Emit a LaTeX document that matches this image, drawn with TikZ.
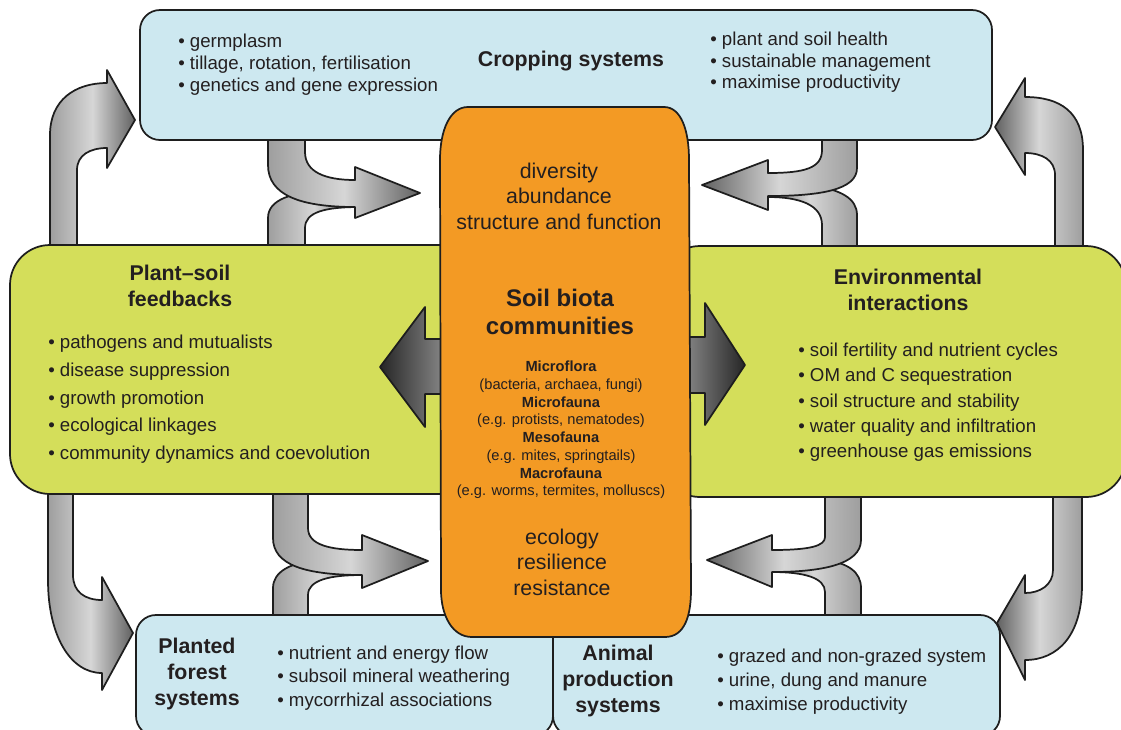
\documentclass[tikz,border=0pt]{standalone}
\usepackage{fontspec}
\setmainfont{Liberation Sans}
\definecolor{boxblue}{HTML}{CDE8F0}
\definecolor{boxgreen}{HTML}{D4DE5A}
\definecolor{biota}{HTML}{F39A24}
\definecolor{ink}{HTML}{231F20}
\definecolor{edge}{HTML}{1E1E1E}
\tikzset{
  outl/.style={draw=edge, line width=1.3pt, line join=round},
  bluebox/.style={outl, fill=boxblue, rounded corners=15pt},
  greenbox/.style={outl, fill=boxgreen, rounded corners=30pt},
  grayR/.style={outl, left color=black!38, right color=black!62, middle color=black!16},
  grayL/.style={outl, left color=black!62, right color=black!38, middle color=black!16},
  darkL/.style={outl, left color=black!85, right color=black!38},
  darkR/.style={outl, left color=black!38, right color=black!85},
  item/.style={anchor=west, inner sep=0pt, text=ink, font=\fontsize{14}{16.8}\selectfont},
  head/.style={align=center, inner sep=0pt, text=ink, font=\fontsize{16}{19.2}\selectfont\bfseries},
  midtext/.style={align=center, inner sep=0pt, text=ink, font=\fontsize{16}{19.1}\selectfont},
}
\begin{document}
\begin{tikzpicture}[x=0.75pt,y=-0.75pt]
\useasboundingbox (0,0) rectangle (1121,729);
\clip (0,0) rectangle (1121,729);
\fill[white] (0,0) rectangle (1121,729);

% outer curved arrows between the boxes
\path[grayR] (50,260) -- (50,135) .. controls (50,100) and (75,83) .. (107,83) -- (107,70) -- (135,120) -- (107,168) -- (107,148) .. controls (90,148) and (77,155) .. (77,170) -- (77,260) -- cycle;
\path[grayL] (1083,260) -- (1083,150) .. controls (1083,112) and (1060,97) .. (1025,97) -- (1025,78) -- (995,127) -- (1025,175) -- (1025,153) .. controls (1042,153) and (1055,160) .. (1055,175) -- (1055,260) -- cycle;
\path[grayR] (48,480) -- (48,580) .. controls (48,635) and (70,673) .. (102,673) -- (102,690) -- (133,633) -- (102,577) -- (102,600) .. controls (85,600) and (73,592) .. (73,575) -- (73,480) -- cycle;
\path[grayL] (1082,480) -- (1082,585) .. controls (1082,635) and (1058,660) .. (1025,660) -- (1025,680) -- (997,623) -- (1025,575) -- (1025,593) .. controls (1040,593) and (1053,585) .. (1053,570) -- (1053,480) -- cycle;

% merging arrows towards the soil biota, upper left
\path[grayR] (268,260) -- (268,218) .. controls (268,200) and (290,192) .. (330,190) -- (360,190) -- (360,207) .. controls (325,207) and (305,212) .. (305,228) -- (305,260) -- cycle;
\path[grayR] (268,125) -- (268,165) .. controls (268,195) and (300,207) .. (355,207) -- (355,218) -- (420,193) -- (355,167) -- (355,180) .. controls (325,180) and (305,172) .. (305,152) -- (305,125) -- cycle;
% upper right
\path[grayL] (857,260) -- (857,215) .. controls (857,198) and (840,190) .. (815,186) -- (762,186) -- (762,197) -- (768,197) .. controls (800,197) and (822,205) .. (822,225) -- (822,260) -- cycle;
\path[grayL] (822,125) -- (822,150) .. controls (822,168) and (805,173) .. (768,173) -- (768,160) -- (702,185) -- (768,210) -- (768,196) .. controls (820,196) and (857,190) .. (857,168) -- (857,125) -- cycle;
% lower left
\path[grayR] (273,630) -- (273,588) .. controls (273,572) and (290,562) .. (320,560) -- (368,560) -- (368,575) -- (362,575) .. controls (330,575) and (308,580) .. (308,595) -- (308,630) -- cycle;
\path[grayR] (273,480) -- (273,538) .. controls (273,565) and (305,575) .. (362,575) -- (362,588) -- (428,561) -- (362,535) -- (362,550) .. controls (330,550) and (308,545) .. (308,528) -- (308,480) -- cycle;
% lower right
\path[grayL] (861,630) -- (861,588) .. controls (861,572) and (848,563) .. (825,560) -- (765,560) -- (765,572) -- (772,572) .. controls (805,572) and (825,578) .. (825,592) -- (825,630) -- cycle;
\path[grayL] (825,480) -- (825,537) .. controls (825,546) and (810,550) .. (772,550) -- (772,535) -- (707,560) -- (772,587) -- (772,572) .. controls (820,572) and (861,565) .. (861,540) -- (861,480) -- cycle;

% boxes
\path[bluebox] (140,10) rectangle (992,140);
\path[greenbox] (10,245) rectangle (480,494);
\path[greenbox] (660,246) rectangle (1126,497);
\path[bluebox] (136,615) rectangle (553,736);
\path[bluebox] (553,615) rectangle (1000,736);

% arrows out of the soil biota
\path[darkL] (460,339) -- (425,339) -- (425,307) -- (380,367) -- (425,427) -- (425,394) -- (460,394) -- cycle;
\path[darkR] (670,337) -- (705,337) -- (705,303) -- (745,365) -- (705,425) -- (705,393) -- (670,393) -- cycle;

% soil biota communities
\path[outl, fill=biota] (468,107) -- (664,107) .. controls (681,107) and (689,130) .. (689,160) -- (691,590) .. controls (691,615) and (685,637) .. (665,637) -- (472,637) .. controls (452,637) and (441,615) .. (441,590) -- (440,160) .. controls (440,130) and (450,107) .. (468,107) -- cycle;

% headings
\node[head] (crop) at (571,61) {Cropping systems};
\node[head] (psf) at (180,286) {Plant–soil\\feedbacks};
\node[head] (env) at (908,290) {Environmental\\interactions};
\node[head] (forest) at (197,674) {Planted\\forest\\systems};
\node[head] (animal) at (618,681) {Animal\\production\\systems};

% centre texts
\node[midtext] (traits) at (559,196) {diversity\\abundance\\structure and function};
\node[align=center, inner sep=0pt, text=ink, font=\fontsize{18}{21}\selectfont\bfseries] (biotatitle) at (560,312) {Soil biota\\communities};
\node[align=center, inner sep=0pt, text=ink, font=\fontsize{11}{13.3}\selectfont] (groups) at (561,430)
  {\textbf{Microflora}\\(bacteria, archaea, fungi)\\\textbf{Microfauna}\\(e.g. protists, nematodes)\\\textbf{Mesofauna}\\(e.g. mites, springtails)\\\textbf{Macrofauna}\\(e.g. worms, termites, molluscs)};
\node[midtext] (eco) at (562,562) {ecology\\resilience\\resistance};

% bullet lists
\foreach \t [count=\i] in {germplasm, {tillage, rotation, fertilisation}, genetics and gene expression}
  \node[item] (cropA\i) at (178,{43.5+21.8*(\i-1)}) {\strut• \t};
\foreach \t [count=\i] in {plant and soil health, sustainable management, maximise productivity}
  \node[item] (cropB\i) at (710,{41.5+21.5*(\i-1)}) {\strut• \t};
\foreach \t [count=\i] in {pathogens and mutualists, disease suppression, growth promotion, ecological linkages, community dynamics and coevolution}
  \node[item] (psf\i) at (48,{344+27.8*(\i-1)}) {\strut• \t};
\foreach \t [count=\i] in {soil fertility and nutrient cycles, OM and C sequestration, soil structure and stability, water quality and infiltration, greenhouse gas emissions}
  \node[item] (env\i) at (798,{352+25.3*(\i-1)}) {\strut• \t};
\foreach \t [count=\i] in {nutrient and energy flow, subsoil mineral weathering, mycorrhizal associations}
  \node[item] (forest\i) at (277,{655+23.5*(\i-1)}) {\strut• \t};
\foreach \t [count=\i] in {grazed and non-grazed system, {urine, dung and manure}, maximise productivity}
  \node[item] (animal\i) at (717,{658+24*(\i-1)}) {\strut• \t};
\end{tikzpicture}
\end{document}
